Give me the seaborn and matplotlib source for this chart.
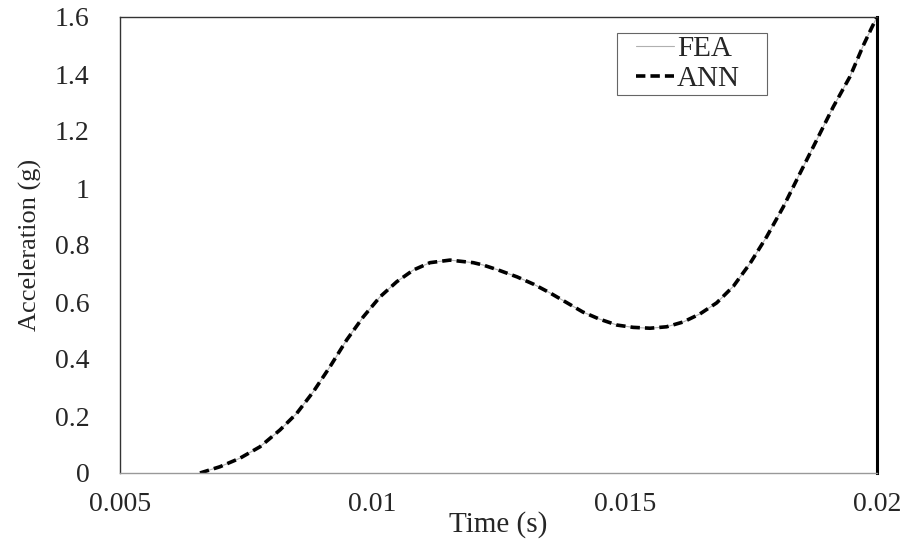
import matplotlib
matplotlib.use("Agg")
import matplotlib.pyplot as plt
from matplotlib.lines import Line2D
from matplotlib.patches import Rectangle
import seaborn as sns
import pandas as pd

time_s = [0.006585, 0.006981, 0.007378, 0.007774, 0.008170, 0.008501, 0.008830,
          0.009161, 0.009492, 0.009821, 0.010152, 0.010483, 0.010811, 0.011142,
          0.011538, 0.012000, 0.012190, 0.012500, 0.012870, 0.013200, 0.013520,
          0.013850, 0.014170, 0.014500, 0.014850, 0.015170, 0.015502, 0.015830,
          0.016162, 0.016490, 0.016823, 0.017153, 0.017483, 0.017814, 0.018144,
          0.018475, 0.018804, 0.019134, 0.019465, 0.019728, 0.019894, 0.020000]
ann_values = [0.000, 0.022, 0.052, 0.092, 0.151, 0.209, 0.285,
              0.373, 0.467, 0.548, 0.618, 0.671, 0.712, 0.738,
              0.747, 0.738, 0.730, 0.712, 0.688, 0.662, 0.632,
              0.598, 0.565, 0.540, 0.519, 0.511, 0.508, 0.513,
              0.530, 0.558, 0.597, 0.655, 0.735, 0.829, 0.934,
              1.052, 1.168, 1.285, 1.391, 1.500, 1.562, 1.600]
fea_values = list(ann_values)
series_names = ["FEA", "ANN"]
x_ticks = [0.005, 0.01, 0.015, 0.02]
x_tick_labels = ["0.005", "0.01", "0.015", "0.02"]
y_ticks = [0, 0.2, 0.4, 0.6, 0.8, 1.0, 1.2, 1.4, 1.6]
y_tick_labels = ["0", "0.2", "0.4", "0.6", "0.8", "1", "1.2", "1.4", "1.6"]

df = pd.DataFrame({
    "Time": time_s * 2,
    "Acceleration": fea_values + ann_values,
    "Series": [series_names[0]] * len(time_s) + [series_names[1]] * len(time_s),
})

sns.set_style("white")
plt.rcParams["font.family"] = ["Liberation Serif", "DejaVu Serif"]

fig = plt.figure(figsize=(9.09, 5.44), dpi=100)
ax = fig.add_axes([120 / 909, 1 - 473 / 544, (877 - 120) / 909, (473 - 17) / 544])

ann_dash = (2.6, 1.4)
sns.lineplot(data=df, x="Time", y="Acceleration", hue="Series", style="Series",
             palette={"FEA": "#b0b0b0", "ANN": "black"},
             dashes={"FEA": "", "ANN": ann_dash},
             size="Series", sizes={"FEA": 0.8, "ANN": 2.6},
             ax=ax, legend=False)

ax.set_xlim(0.005, 0.02)
ax.set_ylim(0, 1.6)
ax.set_xticks(x_ticks)
ax.set_xticklabels(x_tick_labels, fontsize=20)
ax.set_yticks(y_ticks)
ax.set_yticklabels(y_tick_labels, fontsize=20)
ax.tick_params(axis="x", length=6, width=0.8, color="#b0b0b0", pad=8, direction="out")
ax.tick_params(axis="y", length=0, pad=22)
ax.set_xlabel("Time (s)", fontsize=21)
ax.set_ylabel("Acceleration (g)", fontsize=19)
ax.xaxis.set_label_coords(0.5, -(511 - 473) / 456)
ax.yaxis.set_label_coords((42 - 120) / 757, 0.5)

for side in ["left", "top"]:
    ax.spines[side].set_color("#333333")
    ax.spines[side].set_linewidth(1.0)
ax.spines["bottom"].set_color("#999999")
ax.spines["bottom"].set_linewidth(1.0)
ax.spines["right"].set_color("black")
ax.spines["right"].set_linewidth(2.2)

# legend (frame drawn as a separate rectangle to match the box size)
handles = [Line2D([], [], color="#b0b0b0", lw=0.8),
           Line2D([], [], color="black", lw=2.6, ls=(0, ann_dash))]
leg = ax.legend(handles, series_names, loc="upper left",
                bbox_to_anchor=((636 - 120) / 757, 1 - (36 - 17) / 456),
                fontsize=21, frameon=False, handlelength=1.3,
                handletextpad=0.1, borderpad=0.0, labelspacing=0.12,
                borderaxespad=0)
ax.add_patch(Rectangle(((617 - 120) / 757, 1 - (95 - 17) / 456),
                       150 / 757, 62 / 456, transform=ax.transAxes,
                       fill=False, edgecolor="#666666", linewidth=0.8,
                       zorder=5))

fig.savefig("out.png", dpi=100)
